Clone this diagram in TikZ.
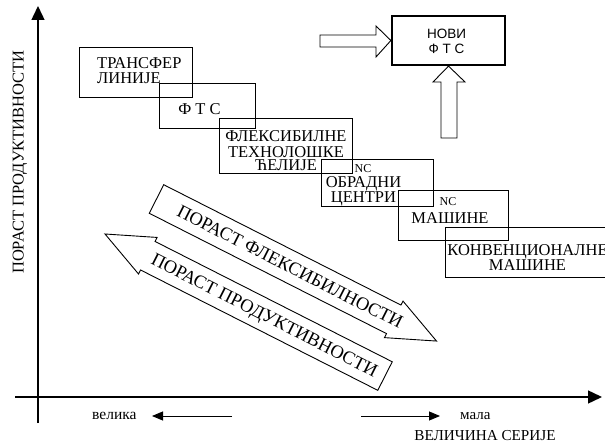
\documentclass[tikz,border=0pt]{standalone}
\usepackage{fontspec}
\setmainfont{Liberation Serif}
\newfontfamily\sansf{Liberation Sans}
\usetikzlibrary{arrows.meta}
\begin{document}
\begin{tikzpicture}[x=1pt,y=-1pt,
  boxst/.style={draw, line width=0.9pt, inner sep=0pt, outer sep=0pt},
  lbl/.style={inner sep=0pt, anchor=base, font=\fontsize{16.5}{16.5}\selectfont},
  nclbl/.style={inner sep=0pt, anchor=base, font=\fontsize{12}{12}\selectfont},
  diag/.style={inner sep=0pt, anchor=base, font=\fontsize{18.5}{18.5}\selectfont, rotate=-26.9},
  nflbl/.style={inner sep=0pt, anchor=base, font=\sansf\fontsize{13.5}{13.5}\selectfont},
  hollow/.style={draw, line width=0.9pt, fill=white, line join=miter},
  axis/.style={line width=1.4pt, -{Triangle[length=14pt,width=13pt]}},
  small/.style={line width=0.9pt, -{Triangle[length=11pt,width=9pt]}},
  bot/.style={inner sep=0pt, anchor=base, font=\fontsize{15.5}{15.5}\selectfont}
]
\useasboundingbox (0,0) rectangle (605,446);
\clip (0,0) rectangle (605,446);

% axes
\coordinate (yb) at (38,423);
\coordinate (yt) at (38,6);
\coordinate (xl) at (15,397);
\coordinate (xr) at (602,397);
\draw[axis] (yb) -- (yt);
\draw[axis] (xl) -- (xr);
\node[inner sep=0pt, anchor=base, rotate=90, font=\fontsize{16.5}{16.5}\selectfont] (ylab) at (23.5,162) {ПОРАСТ ПРОДУКТИВНОСТИ};

% bottom labels
\node[bot, anchor=base west] (vel) at (92,419.5) {велика};
\coordinate (vs) at (232,416);
\coordinate (ve) at (152,416);
\draw[small] (vs) -- (ve);
\coordinate (ms) at (361,416);
\coordinate (me) at (440,416);
\draw[small] (ms) -- (me);
\node[bot, anchor=base west, font=\fontsize{15}{15}\selectfont] (mal) at (460,419.5) {мала};
\node[bot, font=\fontsize{15.2}{15.2}\selectfont] (vs2) at (485,440) {ВЕЛИЧИНА СЕРИЈЕ};

% boxes
\node[boxst, minimum width=113pt, minimum height=50pt] (b1) at (135.5,72) {};
\node[boxst, minimum width=96pt, minimum height=45pt] (b2) at (207,105.5) {};
\node[boxst, minimum width=133pt, minimum height=55pt] (b3) at (285.5,145.5) {};
\node[boxst, minimum width=112pt, minimum height=47pt] (b4) at (377,182.5) {};
\node[boxst, minimum width=110pt, minimum height=50pt] (b5) at (453,215) {};
\node[boxst, minimum width=167pt, minimum height=50pt] (b6) at (528.5,252) {};

\node[lbl, anchor=base west] (t1a) at (97,68.5) {ТРАНСФЕР};
\node[lbl, anchor=base west] (t1b) at (97,83.5) {ЛИНИЈЕ};
\node[lbl] (t2) at (199.5,114.5) {Ф Т С};
\node[lbl] (t3a) at (286,141.5) {ФЛЕКСИБИЛНЕ};
\node[lbl] (t3b) at (286,157.5) {ТЕХНОЛОШКЕ};
\node[lbl] (t3c) at (286,170.5) {ЋЕЛИЈЕ};
\node[nclbl] (nc1) at (363,173) {NC};
\node[lbl] (t4a) at (363.5,187.5) {ОБРАДНИ};
\node[lbl] (t4b) at (363.5,202.5) {ЦЕНТРИ};
\node[nclbl] (nc2) at (448,206) {NC};
\node[lbl] (t5) at (450,223.5) {МАШИНЕ};
\node[lbl] (t6a) at (527.5,255.5) {КОНВЕНЦИОНАЛНЕ};
\node[lbl] (t6b) at (527.5,270.5) {МАШИНЕ};

% new FMS
\node[draw, line width=2.2pt, inner sep=0pt, minimum width=113pt, minimum height=49pt] (nf) at (448.5,40.5) {};
\node[nflbl] (nfa) at (446.5,38.8) {НОВИ};
\node[nflbl] (nfb) at (446.5,53.8) {Ф Т С};

% hollow block arrows into new FMS
\draw[hollow] (320,35) -- (376,35) -- (376,26) -- (nf.west) -- (376,57) -- (376,47) -- (320,47) -- cycle;
\draw[hollow] (441,138) -- (441,82) -- (433,82) -- (nf.south) -- (465,82) -- (457,82) -- (457,138) -- cycle;

% diagonal arrows
\begin{scope}[shift={(156.5,199)}, rotate=-26.9]
  \draw[hollow] (0,-16) -- (266,-16) -- (266,-20.5) -- (314,0) -- (266,20.5) -- (266,16) -- (0,16) -- cycle;
  \node[diag] (flex) at (150,6.1) {ПОРАСТ ФЛЕКСИБИЛНОСТИ};
\end{scope}
\begin{scope}[shift={(105,234)}, rotate=-26.9]
  \draw[hollow] (0,0) -- (48,-20.5) -- (48,-16) -- (314,-16) -- (314,16) -- (48,16) -- (48,20.5) -- cycle;
  \node[diag] (prod) at (179,6.1) {ПОРАСТ ПРОДУКТИВНОСТИ};
\end{scope}
\end{tikzpicture}
\end{document}
